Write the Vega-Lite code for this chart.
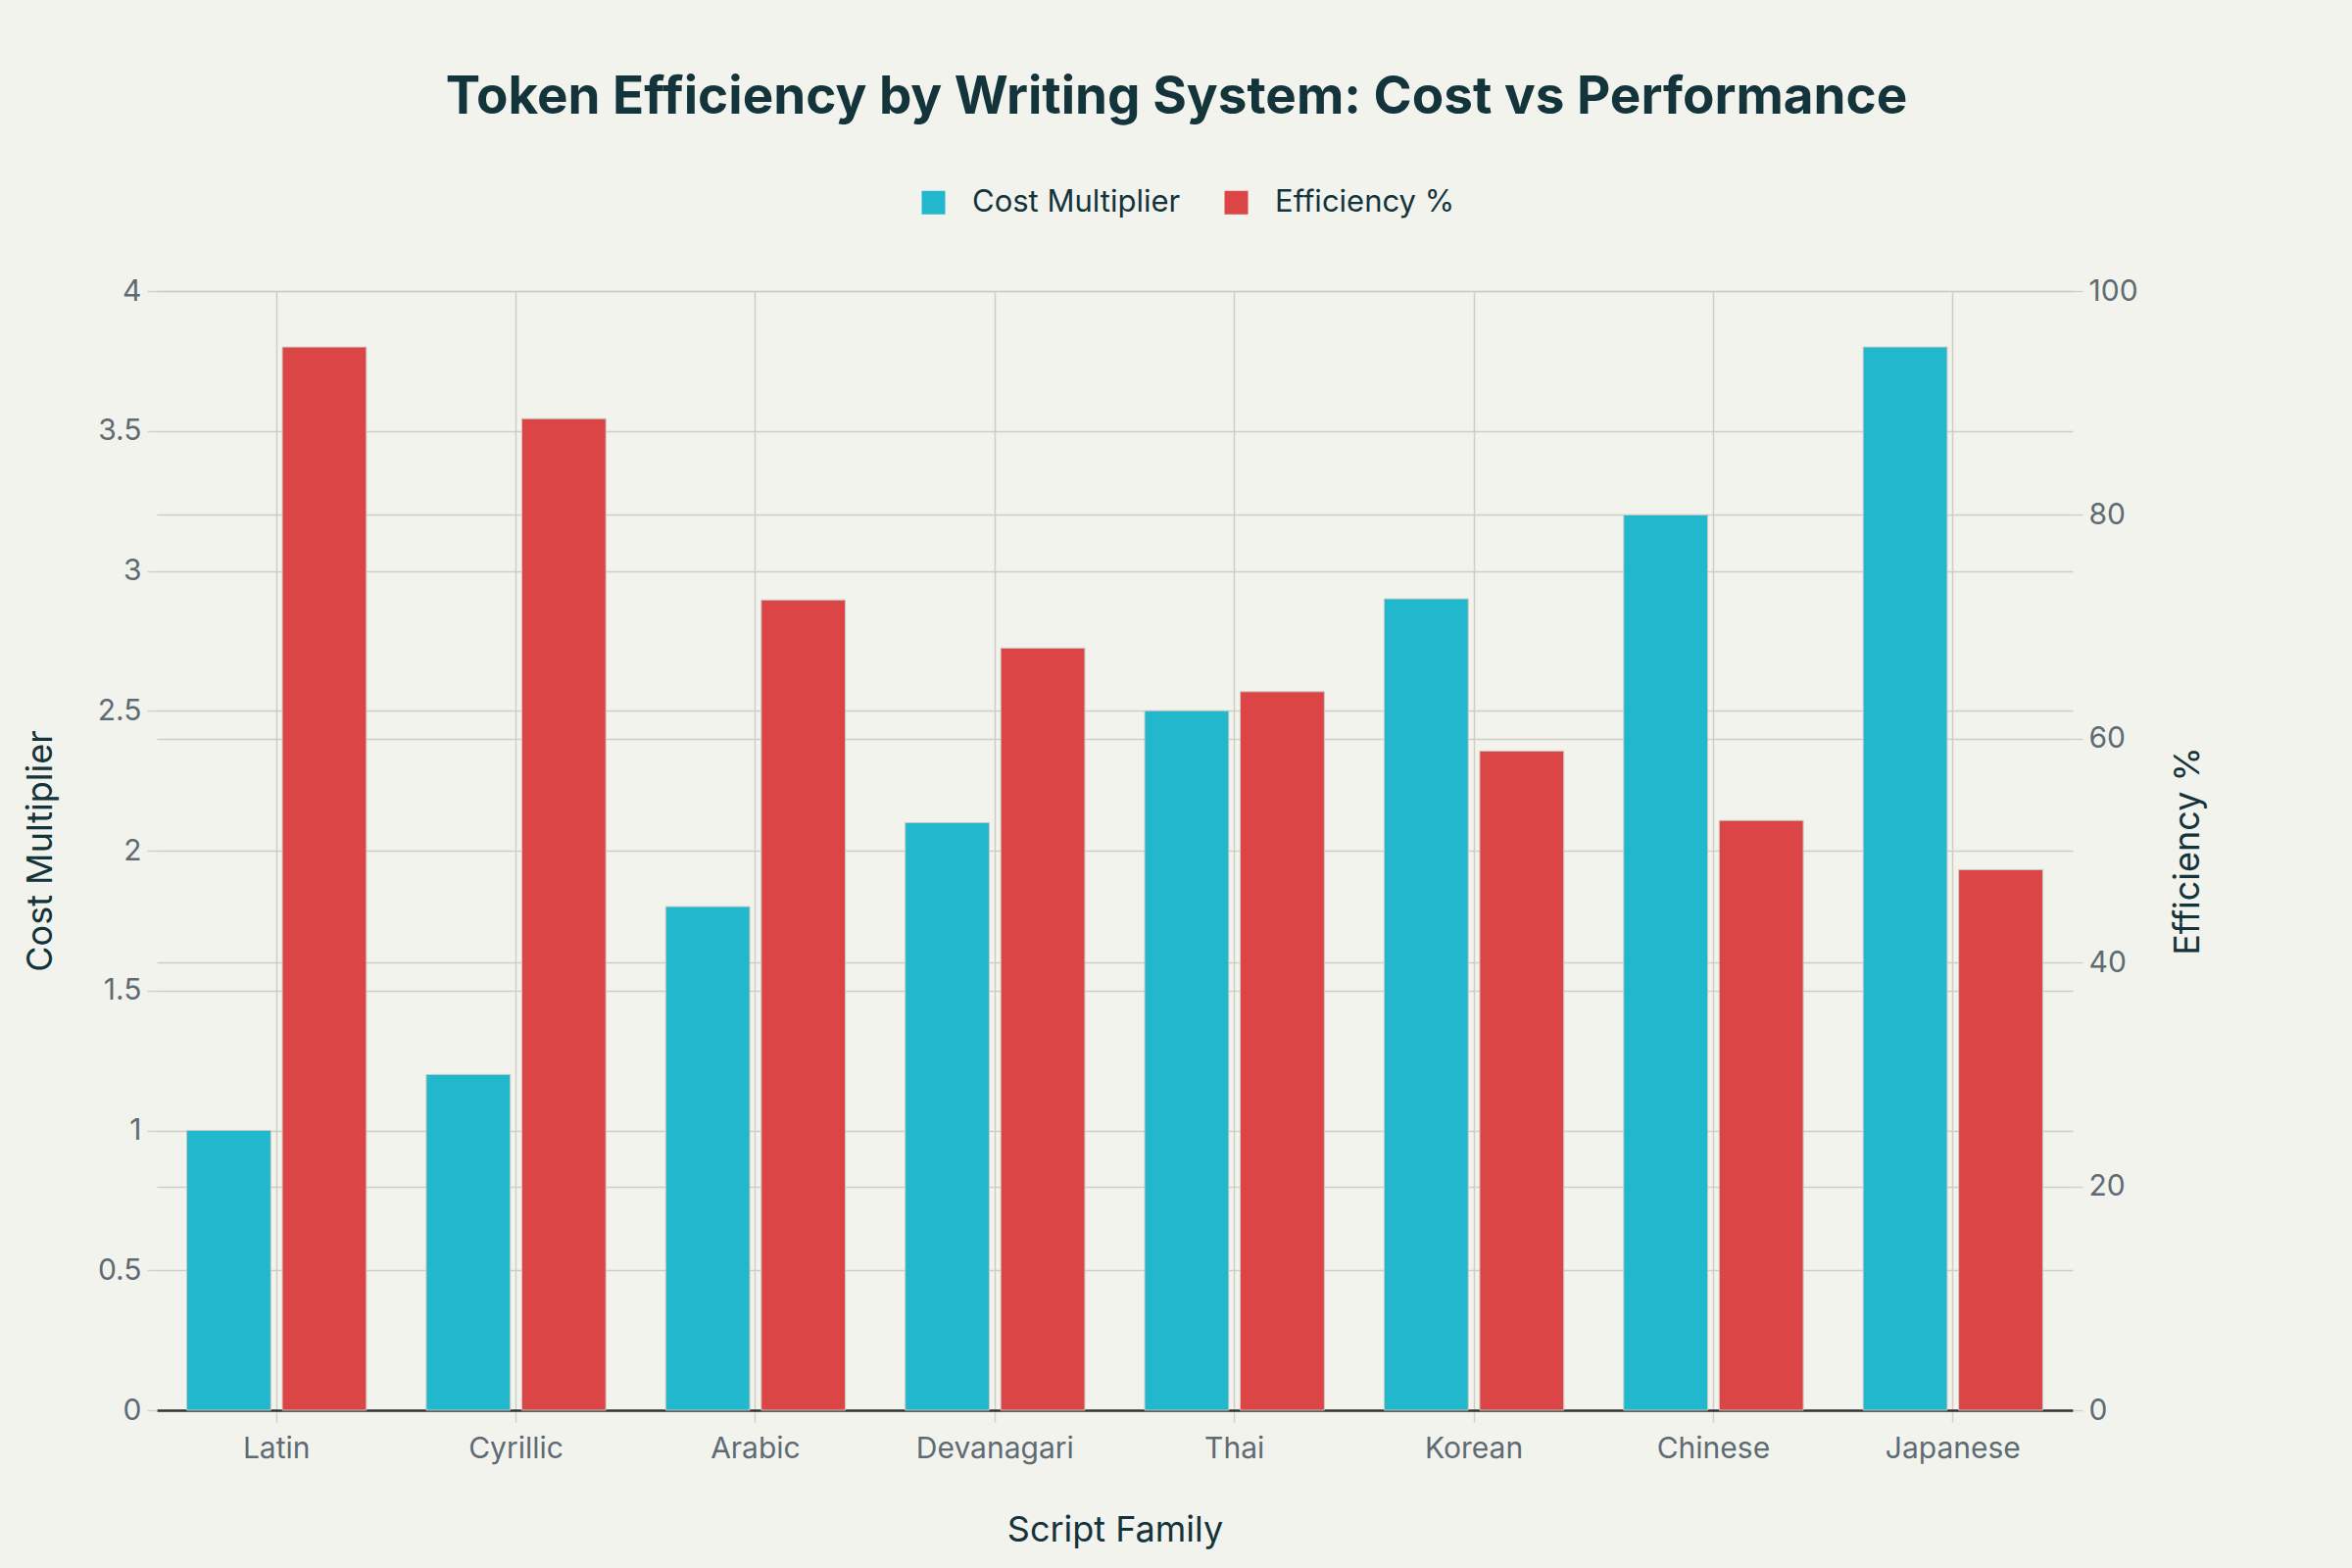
{
  "$schema": "https://vega.github.io/schema/vega-lite/v6.json",
  "width": 1955,
  "height": 1142,
  "autosize": {"type": "none"},
  "padding": {"left": 160, "top": 297, "right": 285, "bottom": 161},
  "background": "#F3F3EE",
  "title": {
    "text": "Token Efficiency by Writing System: Cost vs Performance",
    "fontSize": 53,
    "font": "Inter",
    "fontWeight": "bold",
    "color": "#13343B",
    "anchor": "middle",
    "frame": "group",
    "dx": 63,
    "baseline": "alphabetic",
    "offset": 22
  },
  "data": {
    "values": [
      {"script": "Latin", "series": "Cost Multiplier", "value": 1.0},
      {"script": "Cyrillic", "series": "Cost Multiplier", "value": 1.2},
      {"script": "Arabic", "series": "Cost Multiplier", "value": 1.8},
      {"script": "Devanagari", "series": "Cost Multiplier", "value": 2.1},
      {"script": "Thai", "series": "Cost Multiplier", "value": 2.5},
      {"script": "Korean", "series": "Cost Multiplier", "value": 2.9},
      {"script": "Chinese", "series": "Cost Multiplier", "value": 3.2},
      {"script": "Japanese", "series": "Cost Multiplier", "value": 3.8},
      {"script": "Latin", "series": "Efficiency %", "value": 95},
      {"script": "Cyrillic", "series": "Efficiency %", "value": 88.6},
      {"script": "Arabic", "series": "Efficiency %", "value": 72.4},
      {"script": "Devanagari", "series": "Efficiency %", "value": 68.1},
      {"script": "Thai", "series": "Efficiency %", "value": 64.2},
      {"script": "Korean", "series": "Efficiency %", "value": 58.9},
      {"script": "Chinese", "series": "Efficiency %", "value": 52.7},
      {"script": "Japanese", "series": "Efficiency %", "value": 48.3}
    ]
  },
  "encoding": {
    "x": {
      "field": "script",
      "type": "nominal",
      "sort": ["Latin", "Cyrillic", "Arabic", "Devanagari", "Thai", "Korean", "Chinese", "Japanese"],
      "scale": {"paddingInner": 0.25, "paddingOuter": 0.125},
      "axis": {
        "title": "Script Family",
        "titleFontSize": 36,
        "titleFontWeight": "normal",
        "titleColor": "#13343B",
        "titlePadding": 51,
        "labelFontSize": 30,
        "labelColor": "#5E6B73",
        "labelAngle": 0,
        "labelPadding": 12,
        "domain": true,
        "domainColor": "#333333",
        "domainWidth": 2.5,
        "ticks": true,
        "tickSize": 12,
        "tickWidth": 1.5,
        "tickColor": "#D3D1CC",
        "grid": true,
        "gridColor": "#D0CDC7",
        "gridWidth": 1.5,
        "bandPosition": 0.5
      }
    },
    "xOffset": {
      "field": "series",
      "type": "nominal",
      "scale": {"domain": ["Cost Multiplier", "Efficiency %"], "paddingInner": 0.12, "paddingOuter": 0}
    },
    "color": {
      "field": "series",
      "type": "nominal",
      "scale": {"domain": ["Cost Multiplier", "Efficiency %"], "range": ["#21B8CD", "#DB4545"]},
      "legend": {
        "title": null,
        "orient": "none",
        "direction": "horizontal",
        "legendX": 777,
        "legendY": -106,
        "padding": 0,
        "symbolType": "square",
        "symbolSize": 576,
        "symbolStrokeWidth": 0,
        "labelFontSize": 31,
        "labelColor": "#13343B",
        "labelOffset": 24,
        "labelLimit": 0,
        "columnPadding": 41
      }
    }
  },
  "layer": [
    {
      "transform": [{"filter": "datum.series === 'Cost Multiplier'"}],
      "mark": {"type": "bar", "stroke": "#C9C9C2", "strokeWidth": 1},
      "encoding": {
        "y": {
          "field": "value",
          "type": "quantitative",
          "scale": {"domain": [0, 4]},
          "axis": {
            "orient": "left",
            "title": "Cost Multiplier",
            "titleFontSize": 36,
            "titleFontWeight": "normal",
            "titleColor": "#13343B",
            "titlePadding": 39,
            "values": [0, 0.5, 1, 1.5, 2, 2.5, 3, 3.5, 4],
            "format": "~r",
            "labelFontSize": 30,
            "labelColor": "#5E6B73",
            "labelPadding": 6,
            "domain": false,
            "ticks": true,
            "tickSize": 10,
            "tickWidth": 1.5,
            "tickColor": "#D3D1CC",
            "grid": true,
            "gridColor": "#D0CDC7",
            "gridWidth": 1.5
          }
        }
      }
    },
    {
      "transform": [{"filter": "datum.series === 'Efficiency %'"}],
      "mark": {"type": "bar", "stroke": "#C9C9C2", "strokeWidth": 1},
      "encoding": {
        "y": {
          "field": "value",
          "type": "quantitative",
          "scale": {"domain": [0, 100]},
          "axis": {
            "orient": "right",
            "title": "Efficiency %",
            "titleAngle": 270,
            "titleFontSize": 36,
            "titleFontWeight": "normal",
            "titleColor": "#13343B",
            "titlePadding": 70,
            "values": [0, 20, 40, 60, 80, 100],
            "format": "~r",
            "labelFontSize": 30,
            "labelColor": "#5E6B73",
            "labelPadding": 6,
            "domain": false,
            "ticks": true,
            "tickSize": 10,
            "tickWidth": 1.5,
            "tickColor": "#D3D1CC",
            "grid": true,
            "gridColor": "#D0CDC7",
            "gridWidth": 1.5
          }
        }
      }
    }
  ],
  "resolve": {"scale": {"y": "independent"}},
  "config": {
    "font": "Inter",
    "view": {"stroke": null}
  }
}
